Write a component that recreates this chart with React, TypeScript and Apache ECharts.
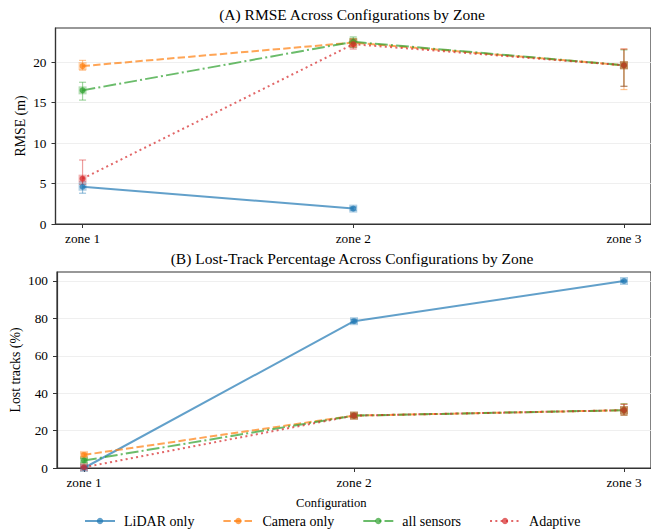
import React, { useEffect, useRef } from "react";
import * as echarts from "echarts";

const zones = ["zone 1", "zone 2", "zone 3"];
const configs = ["LiDAR only", "Camera only", "all sensors", "Adaptive"];
const colors = ["#1f77b4", "#ff7f0e", "#2ca02c", "#d62728"];

// RMSE (m) means per zone
const lidarRmse = [4.6, 1.9, null];
const cameraRmse = [19.5, 22.4, 19.6];
const allRmse = [16.5, 22.5, 19.6];
const adaptiveRmse = [5.6, 22.2, 19.6];
// RMSE error ranges [low, high]
const lidarRmseErr = [[3.8, 5.2], [1.7, 2.1], null];
const cameraRmseErr = [[19.0, 20.2], [21.9, 22.9], [16.6, 21.6]];
const allRmseErr = [[15.3, 17.5], [21.8, 23.1], [17.0, 21.5]];
const adaptiveRmseErr = [[4.9, 7.9], [21.6, 22.8], [17.0, 21.6]];

// Lost tracks (%) means per zone
const lidarLost = [0, 78.5, 100];
const cameraLost = [7.0, 28.0, 30.9];
const allLost = [4.0, 28.0, 30.9];
const adaptiveLost = [0.4, 28.0, 30.9];
// Lost tracks error ranges
const lidarLostErr = [[0, 0.5], [77.6, 79.4], [99.6, 100.4]];
const cameraLostErr = [[6.0, 8.0], [27.2, 28.8], [28.3, 34.3]];
const allLostErr = [[3.0, 5.0], [27.2, 28.8], [28.3, 34.3]];
const adaptiveLostErr = [[0, 1.0], [27.2, 28.8], [28.3, 34.0]];

const yTicksA = [0, 5, 10, 15, 20];
const yTicksB = [0, 20, 40, 60, 80, 100];

const rmseMeans = [lidarRmse, cameraRmse, allRmse, adaptiveRmse];
const rmseErrs = [lidarRmseErr, cameraRmseErr, allRmseErr, adaptiveRmseErr];
const lostMeans = [lidarLost, cameraLost, allLost, adaptiveLost];
const lostErrs = [lidarLostErr, cameraLostErr, allLostErr, adaptiveLostErr];

const FONT = "Liberation Serif";
const LW = 2;
const dashes: any[] = [
  "solid",
  [3.7 * LW, 1.6 * LW],
  [6.4 * LW, 1.6 * LW, 1 * LW, 1.6 * LW],
  [1 * LW, 1.65 * LW],
];

function hexA(hex: string, a: number) {
  const r = parseInt(hex.slice(1, 3), 16);
  const g = parseInt(hex.slice(3, 5), 16);
  const b = parseInt(hex.slice(5, 7), 16);
  return `rgba(${r},${g},${b},${a})`;
}

export default function App() {
  const ref = useRef<HTMLDivElement>(null);
  useEffect(() => {
    if (!ref.current) return;
    const chart = echarts.init(ref.current, null, { renderer: "svg" });

    const gridLeft = 55.5;
    const gridWidth = 598.5;

    const xAxisBase = (gridIndex: number) => ({
      type: "value",
      gridIndex,
      min: -0.1,
      max: 2.1,
      axisLine: { show: true, onZero: false, lineStyle: { color: "#333", width: 1.2 } },
      axisTick: {
        show: true,
        length: 4,
        customValues: [0, 1, 2],
        lineStyle: { color: "#333" },
      },
      axisLabel: {
        customValues: [0, 1, 2],
        formatter: (v: number) => zones[Math.round(v)] ?? "",
        fontFamily: FONT,
        fontSize: 13.3,
        color: "#000",
        margin: 8,
      },
      splitLine: { show: false },
    });

    const yAxisBase = (gridIndex: number, max: number, ticks: number[], name: string, nameGap: number) => ({
      type: "value",
      gridIndex,
      min: 0,
      max,
      name,
      nameLocation: "middle",
      nameGap,
      nameMoveOverlap: false,
      nameTextStyle: { fontFamily: FONT, fontSize: 13.8, color: "#000" },
      axisLine: { show: true, onZero: false, lineStyle: { color: "#333", width: 1.2 } },
      axisTick: { show: true, length: 4, customValues: ticks, lineStyle: { color: "#333" } },
      axisLabel: { customValues: ticks, fontFamily: FONT, fontSize: 13.3, color: "#000", margin: 9 },
      splitLine: { show: true, lineStyle: { color: "#ebebeb", width: 0.8 } },
    });

    const series: any[] = [];
    const panels = [
      { means: rmseMeans, errs: rmseErrs, idx: 0 },
      { means: lostMeans, errs: lostErrs, idx: 1 },
    ];
    panels.forEach((p) => {
      configs.forEach((name, ci) => {
        series.push({
          type: "line",
          name,
          xAxisIndex: p.idx,
          yAxisIndex: p.idx,
          data: p.means[ci].map((v, i) => [i, v]),
          connectNulls: false,
          symbol: "circle",
          symbolSize: 6,
          showSymbol: true,
          itemStyle: { color: colors[ci], opacity: 0.7 },
          lineStyle: { color: colors[ci], width: LW, type: dashes[ci], opacity: 0.7 },
          z: 3,
        });
      });
    });
    panels.forEach((p) => {
      configs.forEach((name, ci) => {
        const data: any[] = [];
        p.errs[ci].forEach((e: any, i: number) => {
          const m = p.means[ci][i];
          if (e && m !== null) data.push([i, e[0], e[1], m]);
        });
        series.push({
          type: "custom",
          xAxisIndex: p.idx,
          yAxisIndex: p.idx,
          data,
          encode: { x: 0, y: [1, 2] },
          z: 2,
          renderItem: (params: any, api: any) => {
            const x = api.value(0);
            const lo = api.coord([x, api.value(1)]);
            const hi = api.coord([x, api.value(2)]);
            const mid = api.coord([x, api.value(3)]);
            const col = hexA(colors[ci], 0.45);
            const cap = 3.5;
            return {
              type: "group",
              children: [
                { type: "line", shape: { x1: lo[0], y1: lo[1], x2: hi[0], y2: hi[1] }, style: { stroke: col, lineWidth: 1.2 } },
                { type: "line", shape: { x1: lo[0] - cap, y1: lo[1], x2: lo[0] + cap, y2: lo[1] }, style: { stroke: col, lineWidth: 1.2 } },
                { type: "line", shape: { x1: hi[0] - cap, y1: hi[1], x2: hi[0] + cap, y2: hi[1] }, style: { stroke: col, lineWidth: 1.2 } },
                { type: "rect", shape: { x: mid[0] - 4, y: mid[1] - 4, width: 8, height: 8 }, style: { fill: hexA(colors[ci], 0.35) } },
              ],
            };
          },
        });
      });
    });

    chart.setOption({
      animation: false,
      backgroundColor: "#fff",
      textStyle: { fontFamily: FONT },
      title: [
        {
          text: "(A) RMSE Across Configurations by Zone",
          left: 352,
          textAlign: "center",
          top: 6,
          padding: 0,
          textStyle: { fontFamily: FONT, fontSize: 15.5, fontWeight: "normal", color: "#000" },
        },
        {
          text: "(B) Lost-Track Percentage Across Configurations by Zone",
          left: 352,
          textAlign: "center",
          top: 250,
          padding: 0,
          textStyle: { fontFamily: FONT, fontSize: 15.5, fontWeight: "normal", color: "#000" },
        },
      ],
      grid: [
        { left: gridLeft, top: 28, width: gridWidth, height: 196, show: true, borderColor: "#333", borderWidth: 1.2, backgroundColor: "transparent" },
        { left: gridLeft, top: 272, width: gridWidth, height: 196, show: true, borderColor: "#333", borderWidth: 1.2, backgroundColor: "transparent" },
      ],
      xAxis: [xAxisBase(0), xAxisBase(1)],
      yAxis: [
        yAxisBase(0, 24.2, yTicksA, "RMSE (m)", 28),
        yAxisBase(1, 104.8, yTicksB, "Lost tracks (%)", 35),
      ],
      legend: {
        data: configs,
        top: 514,
        left: 84,
        itemWidth: 30,
        itemHeight: 8,
        itemGap: 28,
        padding: 0,
        textStyle: { fontFamily: FONT, fontSize: 14, color: "#000", padding: [0, 0, 0, 4] },
      },
      graphic: [
        {
          type: "text",
          left: 296,
          top: 496,
          style: { text: "Configuration", fontFamily: FONT, fontSize: 12.6, fill: "#000" },
        },
      ],
      series,
    });

    return () => chart.dispose();
  }, []);

  return <div ref={ref} style={{ position: "absolute", left: 0, top: 0, width: 651, height: 529 }} />;
}
